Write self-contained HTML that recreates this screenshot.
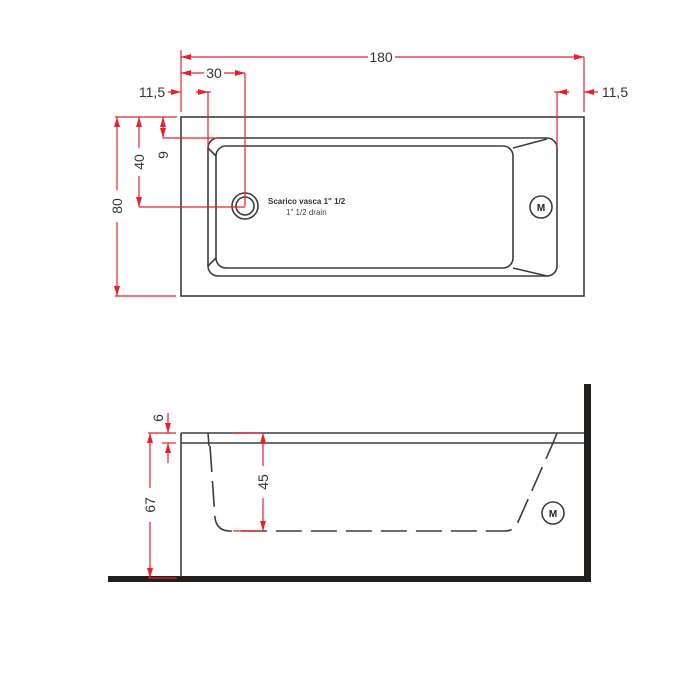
<!DOCTYPE html>
<html><head><meta charset="utf-8"><style>html,body{margin:0;padding:0;background:#fff}svg{display:block}</style></head>
<body>
<svg width="700" height="700" viewBox="0 0 700 700" xmlns="http://www.w3.org/2000/svg" font-family="Liberation Sans, sans-serif">
<defs>
<marker id="a" viewBox="0 0 10 6" refX="10" refY="3" markerWidth="10" markerHeight="6" orient="auto-start-reverse" markerUnits="userSpaceOnUse"><path d="M0,0 L10,3 L0,6 Z" fill="#e8202a"/></marker>
</defs>
<!-- TOP VIEW -->
<g fill="none" stroke="#3a3d40" stroke-width="1.6">
<rect x="181" y="117" width="403" height="179"/>
<rect x="208" y="138" width="349" height="138" rx="10"/>
<rect x="216" y="146" width="297" height="122" rx="10"/>
<line x1="513" y1="148" x2="547" y2="139"/>
<line x1="513" y1="268" x2="547" y2="276"/>
<line x1="208" y1="148" x2="216" y2="156"/>
<line x1="208" y1="266" x2="216" y2="258"/>
<circle cx="245" cy="206" r="13"/>
<circle cx="245" cy="206" r="9"/>
<circle cx="541" cy="207" r="11"/>
</g>
<text x="541" y="211" font-size="10" font-weight="bold" text-anchor="middle" fill="#222">M</text>
<text x="268" y="204" font-size="8" font-weight="bold" fill="#333">Scarico vasca 1" 1/2</text>
<text x="286" y="215" font-size="8" fill="#444">1" 1/2  drain</text>
<!-- red dims top -->
<g stroke="#e8202a" stroke-width="1.2" fill="none">
<line x1="181" y1="50" x2="181" y2="112"/>
<line x1="584" y1="57" x2="584" y2="112"/>
<line x1="181" y1="57" x2="368" y2="57" marker-start="url(#a)"/>
<line x1="395" y1="57" x2="584" y2="57" marker-end="url(#a)"/>
<line x1="181" y1="73" x2="204" y2="73" marker-start="url(#a)"/>
<line x1="224" y1="73" x2="245" y2="73" marker-end="url(#a)"/>
<line x1="245" y1="73" x2="245" y2="206"/>
<line x1="168" y1="92" x2="181" y2="92" marker-end="url(#a)"/>
<line x1="208" y1="92" x2="196" y2="92"/>
<line x1="196" y1="92" x2="208" y2="92" marker-end="url(#a)"/>
<line x1="208" y1="92" x2="211" y2="92"/>
<line x1="208" y1="92" x2="208" y2="148"/>
<line x1="557" y1="92" x2="557" y2="148"/>
<line x1="554" y1="92" x2="569" y2="92"/>
<line x1="569" y1="92" x2="557" y2="92" marker-end="url(#a)"/>
<line x1="598" y1="92" x2="584" y2="92" marker-end="url(#a)"/>
<line x1="115" y1="117" x2="177" y2="117"/>
<line x1="115" y1="296" x2="176" y2="296"/>
<line x1="117" y1="117" x2="117" y2="190" marker-start="url(#a)"/>
<line x1="117" y1="222" x2="117" y2="296" marker-end="url(#a)"/>
<line x1="139" y1="117" x2="139" y2="148" marker-start="url(#a)"/>
<line x1="139" y1="176" x2="139" y2="207" marker-end="url(#a)"/>
<line x1="139" y1="207" x2="245" y2="207"/>
<line x1="163" y1="117" x2="163" y2="138" marker-start="url(#a)" marker-end="url(#a)"/>
<line x1="163" y1="138" x2="220" y2="138"/>
</g>
<g fill="#333" font-size="14">
<text x="381" y="62" text-anchor="middle">180</text>
<text x="214" y="78" text-anchor="middle">30</text>
<text x="152" y="97" text-anchor="middle">11,5</text>
<text x="615" y="97" text-anchor="middle">11,5</text>
<text transform="translate(122,206) rotate(-90)" text-anchor="middle">80</text>
<text transform="translate(144,162) rotate(-90)" text-anchor="middle">40</text>
<text transform="translate(168,155) rotate(-90)" text-anchor="middle">9</text>
</g>
<!-- SIDE VIEW -->
<rect x="108" y="576" width="483" height="6" fill="#231f1d"/>
<rect x="584" y="384" width="7" height="198" fill="#231f1d"/>
<g fill="none" stroke="#3a3d40" stroke-width="1.6">
<line x1="181" y1="433" x2="181" y2="577"/>
<line x1="181" y1="433" x2="584" y2="433"/>
<line x1="181" y1="443" x2="584" y2="443"/>
<line x1="208" y1="433" x2="209" y2="446"/>
<line x1="557" y1="433" x2="553" y2="443"/>
<path d="M210,446 L215,518 Q217,531 230,531 L505,531 Q514,531 518,522 L553,443" stroke-dasharray="26,9"/>
<circle cx="553" cy="513" r="11"/>
</g>
<text x="553" y="517" font-size="10" font-weight="bold" text-anchor="middle" fill="#222">M</text>
<g stroke="#e8202a" stroke-width="1.2" fill="none">
<line x1="233" y1="433" x2="263" y2="433"/>
<line x1="233" y1="531" x2="263" y2="531"/>
<line x1="263" y1="433" x2="263" y2="466" marker-start="url(#a)"/>
<line x1="263" y1="498" x2="263" y2="531" marker-end="url(#a)"/>
<line x1="148" y1="433" x2="176" y2="433"/>
<line x1="162" y1="443" x2="176" y2="443"/>
<line x1="148" y1="578" x2="177" y2="578"/>
<line x1="150" y1="433" x2="150" y2="488" marker-start="url(#a)"/>
<line x1="150" y1="522" x2="150" y2="578" marker-end="url(#a)"/>
<line x1="168" y1="413" x2="168" y2="433" marker-end="url(#a)"/>
<line x1="168" y1="463" x2="168" y2="443" marker-end="url(#a)"/>
</g>
<g fill="#333" font-size="14">
<text transform="translate(268,482) rotate(-90)" text-anchor="middle">45</text>
<text transform="translate(155,505) rotate(-90)" text-anchor="middle">67</text>
<text transform="translate(163,418) rotate(-90)" text-anchor="middle">6</text>
</g>
</svg>
</body></html>
